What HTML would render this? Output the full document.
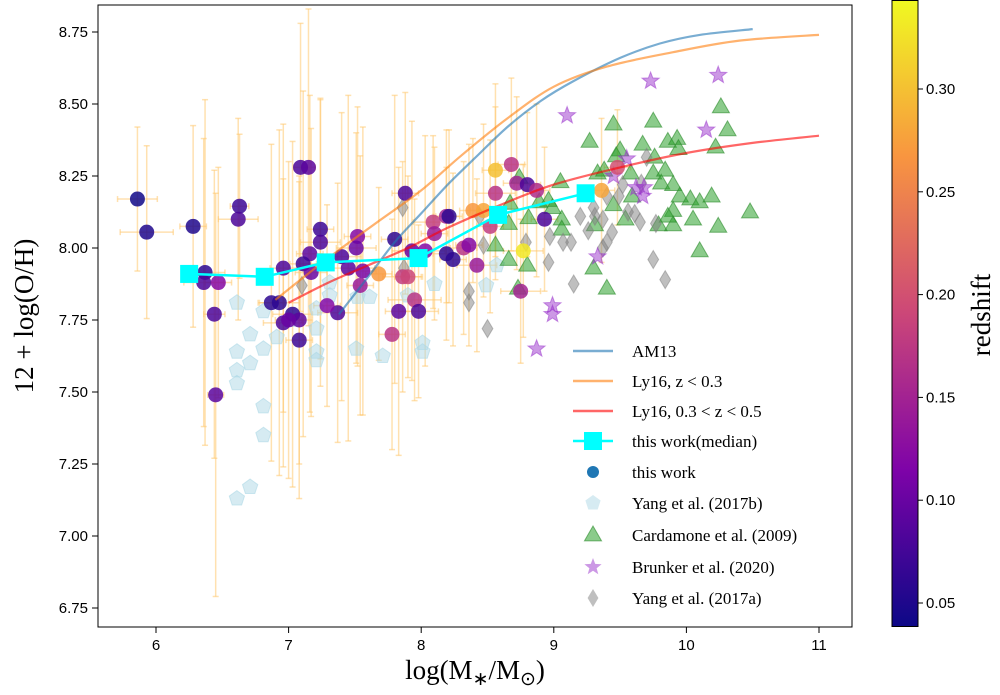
<!DOCTYPE html>
<html><head><meta charset="utf-8"><style>
body{margin:0;background:#fff;width:1000px;height:690px;overflow:hidden}
svg text{font-family:"Liberation Serif",serif}
.tk{font-family:"Liberation Sans",sans-serif;font-size:15px}
</style></head><body>
<svg id="chart" width="1000" height="690" xmlns="http://www.w3.org/2000/svg">
<defs>
<linearGradient id="plasma" x1="0" y1="1" x2="0" y2="0">
<stop offset="0" stop-color="#0d0887"/><stop offset="0.25" stop-color="#7e03a8"/><stop offset="0.5" stop-color="#cc4778"/><stop offset="0.75" stop-color="#f89540"/><stop offset="1" stop-color="#f0f921"/>
</linearGradient>
<clipPath id="clip"><rect x="98" y="5" width="754" height="622"/></clipPath>
</defs>
<g id="plot" clip-path="url(#clip)"></g>
<rect x="98" y="5" width="754" height="622" fill="none" stroke="#000" stroke-width="1"/>
<g id="axes"></g>
<g id="legend"></g>
<rect x="892" y="0.5" width="26" height="626" fill="url(#plasma)" stroke="#000" stroke-width="1"/>
<g id="cbar"></g>
<text x="33" y="316" font-size="27" text-anchor="middle" transform="rotate(-90 33 316)">12 + log(O/H)</text>
<text x="475" y="679" font-size="27" text-anchor="middle">log(M<tspan font-size="19" dy="6">∗</tspan><tspan dy="-6">/M</tspan><tspan font-size="19" dy="6">⊙</tspan><tspan dy="-6">)</tspan></text>
<text x="990" y="315" font-size="27" text-anchor="middle" transform="rotate(-90 990 315)">redshift</text>
</svg>
<script>
const xTicks=[6,7,8,9,10,11];
const yTicks=[6.75,7.00,7.25,7.50,7.75,8.00,8.25,8.50,8.75];
const zTicks=[0.05,0.10,0.15,0.20,0.25,0.30];
const am13X=[7.38,7.6,7.8,8.0,8.2,8.4,8.65,8.9,9.15,9.5,9.8,10.1,10.5];
const am13Y=[7.77,7.90,8.02,8.12,8.22,8.31,8.42,8.51,8.58,8.66,8.71,8.74,8.76];
const ly16lowX=[6.9,7.2,7.4,7.7,8.0,8.3,8.65,9.0,9.4,9.9,10.4,11];
const ly16lowY=[7.82,7.93,8.0,8.1,8.2,8.32,8.45,8.56,8.63,8.68,8.72,8.74];
const ly16hiX=[7.0,7.3,7.6,7.9,8.2,8.6,9.0,9.5,10.0,10.5,11];
const ly16hiY=[7.81,7.88,7.94,8.0,8.07,8.15,8.22,8.28,8.33,8.365,8.39];
const medX=[6.25,6.82,7.28,7.98,8.58,9.24];
const medY=[7.91,7.90,7.95,7.965,8.115,8.19];
const workX=[5.86,5.93,6.28,6.63,6.62,6.37,6.36,6.47,6.44,6.45,6.87,6.93,6.96,7.09,7.15,7.24,7.24,7.16,7.11,7.17,7.40,7.52,7.51,7.56,7.45,7.54,7.37,7.29,7.80,7.88,7.93,8.03,8.09,8.19,7.86,7.90,7.95,7.98,7.83,7.78,7.68,7.08,7.03,7.08,6.96,7.0,8.56,8.68,8.72,8.80,8.87,8.56,8.39,8.47,8.52,8.21,8.93,8.32,8.42,8.19,8.24,8.75,8.77,9.48,9.36,8.10,8.36];
const workY=[8.17,8.055,8.075,8.145,8.10,7.915,7.88,7.88,7.77,7.49,7.81,7.81,7.93,8.28,8.28,8.065,8.02,7.98,7.945,7.915,7.97,8.04,8.0,7.92,7.93,7.87,7.775,7.80,8.03,8.19,7.99,7.99,8.09,8.11,7.90,7.90,7.82,7.78,7.78,7.70,7.91,7.68,7.77,7.75,7.74,7.75,8.27,8.29,8.225,8.22,8.20,8.19,8.13,8.13,8.075,8.11,8.10,8.0,7.94,7.98,7.96,7.85,7.99,8.28,8.20,8.05,8.01];
const workZ=[0.04,0.05,0.05,0.07,0.08,0.06,0.08,0.12,0.08,0.09,0.06,0.06,0.08,0.08,0.09,0.07,0.08,0.09,0.07,0.10,0.08,0.12,0.10,0.11,0.09,0.14,0.08,0.12,0.06,0.08,0.10,0.12,0.18,0.15,0.18,0.19,0.17,0.08,0.09,0.17,0.27,0.07,0.06,0.09,0.08,0.10,0.30,0.17,0.15,0.08,0.16,0.17,0.27,0.28,0.18,0.06,0.08,0.17,0.14,0.06,0.06,0.15,0.33,0.20,0.28,0.14,0.12];
const workYerr=[0.25,0.3,0.35,0.25,0.35,0.6,0.5,0.4,0.5,0.7,0.55,0.6,0.5,0.5,0.55,0.45,0.5,0.55,0.6,0.5,0.5,0.45,0.4,0.5,0.6,0.45,0.45,0.35,0.5,0.35,0.45,0.4,0.3,0.3,0.4,0.35,0.35,0.3,0.5,0.4,0.3,0.55,0.6,0.5,0.5,0.55,0.3,0.3,0.3,0.25,0.3,0.3,0.25,0.3,0.3,0.3,0.25,0.3,0.3,0.3,0.3,0.25,0.3,0.2,0.25,0.3,0.35];
const workXerr=[0.15,0.2,0.1,0.07,0.15,0.15,0.15,0.1,0.08,0.06,0.1,0.15,0.1,0.05,0.05,0.1,0.15,0.1,0.1,0.12,0.15,0.1,0.15,0.1,0.2,0.1,0.15,0.1,0.1,0.1,0.15,0.15,0.15,0.1,0.15,0.1,0.2,0.15,0.1,0.1,0.1,0.1,0.15,0.1,0.15,0.1,0.1,0.1,0.1,0.1,0.1,0.15,0.1,0.1,0.1,0.1,0.1,0.1,0.15,0.1,0.1,0.15,0.15,0.1,0.1,0.1,0.1];
const y17bX=[6.61,6.71,6.61,6.71,6.61,6.61,6.81,6.81,6.81,6.91,7.01,7.21,7.21,7.21,7.21,7.31,7.31,7.52,7.61,7.51,7.71,7.9,8.01,8.01,8.10,6.81,6.71,6.61,8.57,8.49];
const y17bY=[7.81,7.70,7.64,7.60,7.575,7.53,7.78,7.65,7.45,7.69,7.75,7.79,7.72,7.64,7.61,7.88,7.835,7.83,7.83,7.65,7.625,7.835,7.67,7.64,7.875,7.35,7.17,7.13,7.94,7.87];
const cardX=[9.27,9.45,9.75,10.26,10.31,9.67,9.86,9.93,9.94,10.22,9.50,9.47,9.76,9.58,9.75,9.84,9.81,9.90,9.95,10.03,10.10,10.19,10.48,10.24,10.05,9.90,9.90,9.86,9.79,9.54,9.59,9.33,9.38,9.05,8.99,9.06,9.06,9.31,9.45,10.10,9.40,9.30,8.80,8.66,8.56,8.73,8.67,8.74,8.89,8.96,8.81,8.66];
const cardY=[8.37,8.43,8.44,8.49,8.41,8.36,8.37,8.38,8.345,8.35,8.34,8.32,8.315,8.26,8.26,8.27,8.225,8.22,8.18,8.17,8.16,8.18,8.125,8.075,8.10,8.13,8.08,8.11,8.08,8.10,8.18,8.26,8.27,8.23,8.14,8.10,8.065,8.08,8.15,7.99,7.86,7.93,7.94,7.96,8.01,7.86,8.155,8.245,8.16,8.165,8.105,8.085];
const brunX=[10.24,9.73,9.10,10.15,9.55,9.45,9.62,9.68,9.67,9.33,8.99,8.99,8.87];
const brunY=[8.60,8.58,8.46,8.41,8.31,8.25,8.21,8.21,8.18,7.97,7.80,7.77,7.65];
const y17aX=[9.52,9.49,9.66,9.70,9.40,9.44,9.40,9.37,9.37,9.26,9.31,9.30,9.20,9.13,9.07,8.97,9.56,9.61,9.65,9.77,9.75,9.84,9.15,8.96,8.47,8.36,8.36,8.79,8.44,8.50,7.86,7.87,7.10];
const y17aY=[8.22,8.18,8.225,8.315,8.18,8.055,8.02,8.0,8.10,8.06,8.11,8.14,8.11,8.02,8.02,8.04,8.125,8.12,8.09,8.085,7.96,7.89,7.875,7.95,8.01,7.85,7.81,8.02,8.11,7.72,8.14,7.93,7.87];

const NS="http://www.w3.org/2000/svg";
const X=v=>156+(v-6)*132.6;
const Y=v=>32+(8.75-v)*288;
const ZMIN=0.0383,ZMAX=0.3433;
const ZY=v=>603-(v-0.05)*2056;
const stops=[[13,8,135],[126,3,168],[204,71,120],[248,149,64],[240,249,33]];
function plasma(z){let t=Math.max(0,Math.min(1,(z-ZMIN)/(ZMAX-ZMIN)))*4;let i=Math.min(3,Math.floor(t)),f=t-i;const a=stops[i],b=stops[i+1];return `rgb(${a.map((c,k)=>Math.round(c+(b[k]-c)*f)).join(',')})`;}
function mk(tag,attrs,parent){const e=document.createElementNS(NS,tag);for(const k in attrs)e.setAttribute(k,attrs[k]);parent.appendChild(e);return e;}
const plot=document.getElementById('plot'),axes=document.getElementById('axes'),cbar=document.getElementById('cbar'),leg=document.getElementById('legend');

function pent(cx,cy,r){let p=[];for(let i=0;i<5;i++){const a=-Math.PI/2+i*2*Math.PI/5;p.push((cx+r*Math.cos(a)).toFixed(1)+','+(cy+r*Math.sin(a)).toFixed(1));}return p.join(' ');}
function star(cx,cy,r){let p=[];for(let i=0;i<10;i++){const a=-Math.PI/2+i*Math.PI/5,rr=i%2?r*0.42:r;p.push((cx+rr*Math.cos(a)).toFixed(1)+','+(cy+rr*Math.sin(a)).toFixed(1));}return p.join(' ');}
function tri(cx,cy,r){return `${cx},${cy-r} ${cx+r*0.95},${cy+r*0.65} ${cx-r*0.95},${cy+r*0.65}`;}
function dia(cx,cy,r){return `${cx},${cy-r} ${cx+r*0.6},${cy} ${cx},${cy+r} ${cx-r*0.6},${cy}`;}
function smooth(P){let d=`M${P[0][0]},${P[0][1]}`;for(let i=0;i<P.length-1;i++){const p0=P[i-1]||P[i],p1=P[i],p2=P[i+1],p3=P[i+2]||p2;
const c1=[p1[0]+(p2[0]-p0[0])/6,p1[1]+(p2[1]-p0[1])/6],c2=[p2[0]-(p3[0]-p1[0])/6,p2[1]-(p3[1]-p1[1])/6];
d+=` C${c1[0].toFixed(1)},${c1[1].toFixed(1)} ${c2[0].toFixed(1)},${c2[1].toFixed(1)} ${p2[0].toFixed(1)},${p2[1].toFixed(1)}`;}return d;}

const gErr=mk('g',{},plot);


workX.forEach((x,i)=>{
  const cx=X(x),cy=Y(workY[i]),y1=Y(workY[i]+workYerr[i]),y2=Y(workY[i]-workYerr[i]),x1=X(x-workXerr[i]),x2=X(x+workXerr[i]);
  const st={stroke:'#ffc870','stroke-opacity':0.55,'stroke-width':1.5};
  mk('line',Object.assign({x1:cx,x2:cx,y1:y1,y2:y2},st),gErr);
  mk('line',Object.assign({x1:x1,x2:x2,y1:cy,y2:cy},st),gErr);
  mk('line',Object.assign({x1:cx-3,x2:cx+3,y1:y1,y2:y1},st),gErr);
  mk('line',Object.assign({x1:cx-3,x2:cx+3,y1:y2,y2:y2},st),gErr);
  mk('line',Object.assign({x1:x1,x2:x1,y1:cy-3,y2:cy+3},st),gErr);
  mk('line',Object.assign({x1:x2,x2:x2,y1:cy-3,y2:cy+3},st),gErr);
});
y17bX.forEach((x,i)=>{const e=mk('polygon',{points:pent(X(x),Y(y17bY[i]),8),fill:'#add8e6','fill-opacity':0.5,stroke:'#add8e6','stroke-opacity':0.6},plot);

});
cardX.forEach((x,i)=>{const e=mk('polygon',{points:tri(X(x),Y(cardY[i]),9),fill:'#2ca02c','fill-opacity':0.55,stroke:'#2a8a2a','stroke-opacity':0.6},plot);

});
y17aX.forEach((x,i)=>{const e=mk('polygon',{points:dia(X(x),Y(y17aY[i]),9),fill:'#808080','fill-opacity':0.5,stroke:'#808080','stroke-opacity':0.5},plot);

});
brunX.forEach((x,i)=>{const e=mk('polygon',{points:star(X(x),Y(brunY[i]),9),fill:'#9932cc','fill-opacity':0.5,stroke:'#9932cc','stroke-opacity':0.5},plot);

});
workX.forEach((x,i)=>{const e=mk('circle',{cx:X(x),cy:Y(workY[i]),r:7.5,fill:plasma(workZ[i]),'fill-opacity':0.85},plot);

});
function curve(xs,ys,col,name){const e=mk('path',{d:smooth(xs.map((x,i)=>[X(x),Y(ys[i])])),fill:'none',stroke:col,'stroke-width':2.2,'stroke-opacity':0.6},plot);

}
curve(am13X,am13Y,'#1f77b4','am13-curve');
curve(ly16lowX,ly16lowY,'#ff7f0e','ly16-low-z-curve');
curve(ly16hiX,ly16hiY,'#ff0000','ly16-high-z-curve');
const med=mk('polyline',{points:medX.map((x,i)=>X(x)+','+Y(medY[i])).join(' '),fill:'none',stroke:'#00ffff','stroke-width':2.5},plot);


medX.forEach((x,i)=>{const e=mk('rect',{x:X(x)-9,y:Y(medY[i])-9,width:18,height:18,fill:'#00ffff'},plot);

});

xTicks.forEach(v=>{mk('line',{x1:X(v),x2:X(v),y1:627,y2:633,stroke:'#000'},axes);
const t=mk('text',{x:X(v),y:650,'text-anchor':'middle',class:'tk'},axes);t.textContent=v;

});
yTicks.forEach(v=>{mk('line',{x1:92,x2:98,y1:Y(v),y2:Y(v),stroke:'#000'},axes);
const t=mk('text',{x:88,y:Y(v)+5,'text-anchor':'end',class:'tk'},axes);t.textContent=v.toFixed(2);

});
zTicks.forEach(v=>{mk('line',{x1:918,x2:923,y1:ZY(v),y2:ZY(v),stroke:'#000'},cbar);
const t=mk('text',{x:926,y:ZY(v)+5,class:'tk'},cbar);t.textContent=v.toFixed(2);

});

const L=[['line','#1f77b4','AM13'],['line','#ff7f0e','Ly16, z < 0.3'],['line','#ff0000','Ly16, 0.3 < z < 0.5'],['med','#00ffff','this work(median)'],['circ','#1f77b4','this work'],['pent','#add8e6','Yang et al. (2017b)'],['tri','#2ca02c','Cardamone et al. (2009)'],['star','#9932cc','Brunker et al. (2020)'],['dia','#808080','Yang et al. (2017a)']];
const LY=[351,381,411,441,472,503,535,567,598];
L.forEach((it,i)=>{const y=LY[i],g=mk('g',{},leg);


const [k,c,lab]=it;
if(k==='line')mk('line',{x1:573,x2:613,y1:y,y2:y,stroke:c,'stroke-width':2.5,'stroke-opacity':0.6},g);
if(k==='med'){mk('line',{x1:573,x2:613,y1:y,y2:y,stroke:c,'stroke-width':2.5},g);mk('rect',{x:584,y:y-9,width:18,height:18,fill:c},g);}
if(k==='circ')mk('circle',{cx:593,cy:y,r:6,fill:c},g);
if(k==='pent')mk('polygon',{points:pent(593,y,8),fill:c,'fill-opacity':0.5},g);
if(k==='tri')mk('polygon',{points:tri(593,y,9),fill:c,'fill-opacity':0.55,stroke:'#2a8a2a','stroke-opacity':0.6},g);
if(k==='star')mk('polygon',{points:star(593,y,9),fill:c,'fill-opacity':0.5},g);
if(k==='dia')mk('polygon',{points:dia(593,y,9),fill:c,'fill-opacity':0.5},g);
const t=mk('text',{x:632,y:y+6,'font-size':17},g);t.textContent=lab;});
</script>
</body></html>
